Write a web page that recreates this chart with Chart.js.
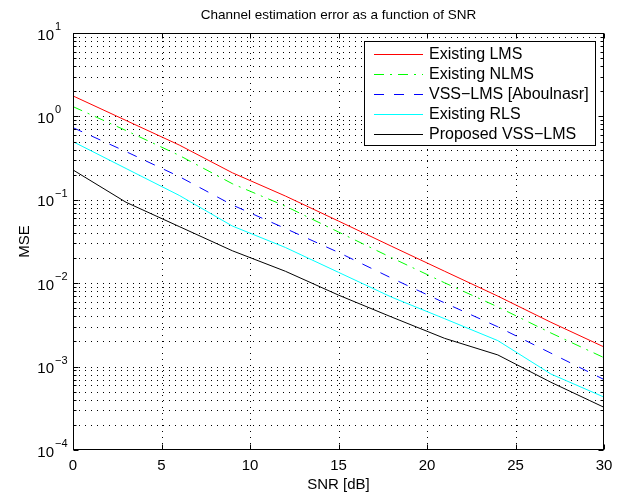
<!DOCTYPE html>
<html><head><meta charset="utf-8">
<script src="https://cdn.jsdelivr.net/npm/chart.js@4/dist/chart.umd.min.js"></script>
<style>html,body{margin:0;padding:0;background:#fff}#wrap{width:625px;height:494px}</style>
</head><body><div id="wrap"><canvas id="c" width="625" height="494"></canvas></div>
<script>
const snr = [0, 3, 6, 9, 12, 15, 18, 21, 24, 27, 30];
const existingLMS  = [1.76, 0.893, 0.454, 0.211, 0.111, 0.0556, 0.0277, 0.0139, 0.0070, 0.0034, 0.00172];
const existingNLMS = [1.31, 0.676, 0.341, 0.156, 0.0839, 0.0411, 0.0202, 0.0101, 0.0052, 0.00253, 0.00128];
const vssAboulnasr = [0.733, 0.378, 0.190, 0.0867, 0.0453, 0.0234, 0.0115, 0.0058, 0.0030, 0.00145, 0.00070];
const existingRLS  = [0.498, 0.237, 0.113, 0.0485, 0.0268, 0.0135, 0.0068, 0.00375, 0.00205, 0.000815, 0.000431];
const proposedVSS  = [0.228, 0.0933, 0.0478, 0.0245, 0.0139, 0.0072, 0.00393, 0.00218, 0.00138, 0.000649, 0.000325];
const seriesNames = ['Existing LMS', 'Existing NLMS', 'VSS\u2212LMS [Aboulnasr]', 'Existing RLS', 'Proposed VSS\u2212LMS'];
const xTickValues = [0, 5, 10, 15, 20, 25, 30];
const yDecades = [1e-4, 1e-3, 1e-2, 1e-1, 1e0, 1e1];
const yExponentLabels = ['\u22124', '\u22123', '\u22122', '\u22121', '0', '1'];
const titleText = 'Channel estimation error as a function of SNR';
const xTitle = 'SNR [dB]';
const yTitle = 'MSE';

const FONT = "'Liberation Sans', Arial, Helvetica, sans-serif";
const FS = 15;

function pts(arr) { return snr.map((x, i) => ({x: x, y: arr[i]})); }

const styles = [
  {c: '#ff0000', d: []},
  {c: '#00ff00', d: [10, 6, 2, 6]},
  {c: '#0000ff', d: [10, 10]},
  {c: '#00ffff', d: []},
  {c: '#000000', d: []}
];
const allSeries = [existingLMS, existingNLMS, vssAboulnasr, existingRLS, proposedVSS];

const datasets = allSeries.map((s, i) => ({
  label: seriesNames[i],
  data: pts(s),
  borderColor: styles[i].c,
  backgroundColor: styles[i].c,
  borderDash: styles[i].d,
  borderWidth: 1,
  pointRadius: 0,
  tension: 0,
  fill: false
}));

const decor = {
  id: 'decor',
  beforeDatasetsDraw(chart) {
    const {ctx, chartArea: a, scales: {x, y}} = chart;
    ctx.save();
    ctx.strokeStyle = '#000';
    ctx.lineWidth = 1;
    ctx.setLineDash([1, 5]);
    xTickValues.forEach(v => {
      const px = Math.round(x.getPixelForValue(v)) + 0.5;
      if (v === x.min || v === x.max) return;
      ctx.beginPath(); ctx.moveTo(px, a.bottom); ctx.lineTo(px, a.top); ctx.stroke();
    });
    for (let e = -4; e <= 0; e++) {
      for (let d = 1; d <= 9; d++) {
        const v = d * Math.pow(10, e);
        if (e === -4 && d === 1) continue;
        const py = Math.round(y.getPixelForValue(v)) + 0.5;
        ctx.beginPath(); ctx.moveTo(a.left, py); ctx.lineTo(a.right, py); ctx.stroke();
      }
    }
    ctx.restore();
  },
  afterDatasetsDraw(chart) {
    const {ctx, chartArea: a, scales: {x, y}} = chart;
    ctx.save();
    ctx.strokeStyle = '#000';
    ctx.lineWidth = 1;
    ctx.setLineDash([]);
    const L = Math.round(a.left) + 0.5, R = Math.round(a.right) - 0.5;
    const T = Math.round(a.top) + 0.5, B = Math.round(a.bottom) - 0.5;
    ctx.strokeRect(L, T, R - L, B - T);
    xTickValues.forEach(v => {
      const px = Math.round(x.getPixelForValue(v)) + 0.5;
      ctx.beginPath();
      ctx.moveTo(px, B); ctx.lineTo(px, B - 5);
      ctx.moveTo(px, T); ctx.lineTo(px, T + 5);
      ctx.stroke();
    });
    for (let e = -4; e <= 0; e++) {
      for (let d = 1; d <= 9; d++) {
        const v = d * Math.pow(10, e);
        const len = d === 1 ? 5 : 3;
        const py = Math.round(y.getPixelForValue(v)) + 0.5;
        ctx.beginPath();
        ctx.moveTo(L, py); ctx.lineTo(L + len, py);
        ctx.moveTo(R, py); ctx.lineTo(R - len, py);
        ctx.stroke();
      }
    }
    ctx.fillStyle = '#000';
    ctx.textBaseline = 'middle';
    yDecades.forEach((v, i) => {
      const py = y.getPixelForValue(v);
      ctx.font = FS + 'px ' + FONT;
      ctx.textAlign = 'right';
      ctx.fillText('10', a.left - 19, py + 2.5);
      ctx.font = '11px ' + FONT;
      ctx.textAlign = 'left';
      ctx.fillText(yExponentLabels[i], a.left - 18, py - 6);
    });
    ctx.font = '13.5px ' + FONT;
    ctx.textAlign = 'center';
    ctx.fillText(titleText, (a.left + a.right) / 2, 15);
    const lx = 364.5, ly = 41.5, lw = 231, lh = 104;
    ctx.fillStyle = '#fff';
    ctx.fillRect(lx, ly, lw, lh);
    ctx.strokeRect(lx, ly, lw, lh);
    chart.data.datasets.forEach((ds, i) => {
      const ry = Math.round(54 + i * 20) + 0.5;
      ctx.strokeStyle = ds.borderColor;
      ctx.setLineDash(ds.borderDash || []);
      ctx.beginPath(); ctx.moveTo(374, ry); ctx.lineTo(423, ry); ctx.stroke();
      ctx.setLineDash([]);
      ctx.fillStyle = '#000';
      ctx.textAlign = 'left';
      ctx.font = '16px ' + FONT;
      ctx.fillText(ds.label, 429, ry + 0.5);
    });
    ctx.restore();
  }
};

new Chart(document.getElementById('c'), {
  type: 'line',
  data: {datasets: datasets},
  options: {
    responsive: false,
    animation: false,
    devicePixelRatio: 1,
    layout: {padding: {top: 33, right: 21, left: 0, bottom: 0}},
    plugins: {legend: {display: false}, title: {display: false}, tooltip: {enabled: false}},
    scales: {
      x: {
        type: 'linear', min: 0, max: 30,
        afterBuildTicks: s => { s.ticks = xTickValues.map(v => ({value: v})); },
        afterFit: s => { s.height = 44; },
        grid: {display: false, drawTicks: false},
        border: {display: false},
        ticks: {color: '#000', font: {family: FONT, size: FS}, padding: 7, maxRotation: 0, autoSkip: false},
        title: {display: true, text: xTitle, color: '#000', font: {family: FONT, size: FS}, padding: {top: 0, bottom: 0}}
      },
      y: {
        type: 'logarithmic', min: 1e-4, max: 10,
        afterFit: s => { s.width = 73; },
        grid: {display: false, drawTicks: false},
        border: {display: false},
        ticks: {display: false},
        title: {display: true, text: yTitle, color: '#000', font: {family: FONT, size: FS}, padding: {top: 16, bottom: 0}}
      }
    }
  },
  plugins: [decor]
});
</script>
</body></html>
